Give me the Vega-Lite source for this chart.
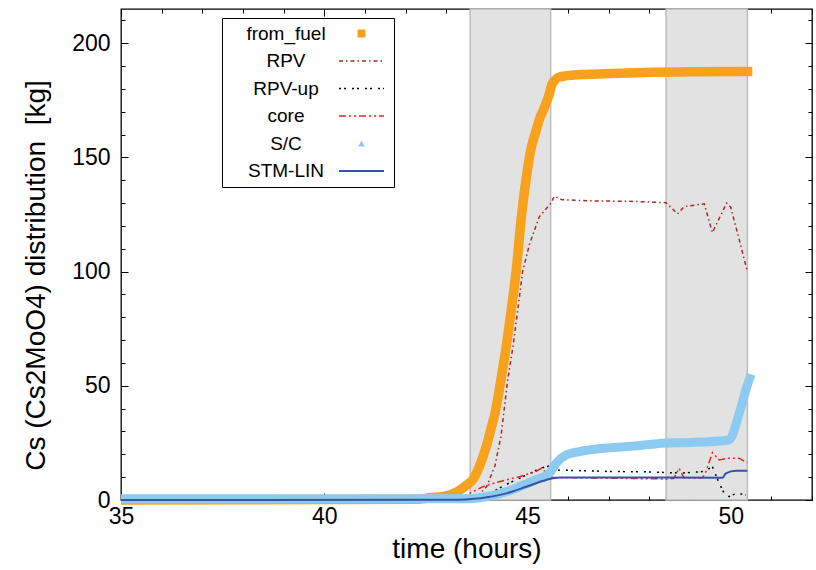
{
  "$schema": "https://vega.github.io/schema/vega-lite/v6.json",
  "width": 691,
  "height": 491,
  "autosize": {"type": "none"},
  "padding": {"left": 121, "top": 9, "right": 4, "bottom": 70},
  "background": "#ffffff",
  "config": {
    "font": "Liberation Sans",
    "view": {"stroke": "#000000", "strokeWidth": 1.3},
    "axis": {"domain": false, "grid": false, "labelFont": "Liberation Sans", "labelFontSize": 23, "labelColor": "#000000", "titleFont": "Liberation Sans", "titleFontSize": 28, "titleFontWeight": "normal", "titleColor": "#000000", "tickColor": "#000000", "tickWidth": 1}
  },
  "datasets": {
    "zones": [
      {"t": 43.59, "t2": 45.57},
      {"t": 48.41, "t2": 50.41}
    ],
    "curves": [
      {"s": "from_fuel", "t": 35, "v": 0},
      {"s": "from_fuel", "t": 42.3, "v": 0.3},
      {"s": "from_fuel", "t": 42.6, "v": 1.0},
      {"s": "from_fuel", "t": 43.0, "v": 1.8},
      {"s": "from_fuel", "t": 43.2, "v": 3.0},
      {"s": "from_fuel", "t": 43.35, "v": 4.5},
      {"s": "from_fuel", "t": 43.5, "v": 6.5},
      {"s": "from_fuel", "t": 43.66, "v": 9},
      {"s": "from_fuel", "t": 43.8, "v": 14},
      {"s": "from_fuel", "t": 43.98, "v": 23},
      {"s": "from_fuel", "t": 44.1, "v": 31},
      {"s": "from_fuel", "t": 44.2, "v": 38},
      {"s": "from_fuel", "t": 44.35, "v": 53},
      {"s": "from_fuel", "t": 44.5, "v": 70},
      {"s": "from_fuel", "t": 44.6, "v": 83},
      {"s": "from_fuel", "t": 44.72, "v": 100},
      {"s": "from_fuel", "t": 44.85, "v": 124},
      {"s": "from_fuel", "t": 44.97, "v": 141},
      {"s": "from_fuel", "t": 45.09, "v": 154},
      {"s": "from_fuel", "t": 45.2, "v": 161},
      {"s": "from_fuel", "t": 45.29, "v": 166.5},
      {"s": "from_fuel", "t": 45.42, "v": 172},
      {"s": "from_fuel", "t": 45.54, "v": 178},
      {"s": "from_fuel", "t": 45.6, "v": 182},
      {"s": "from_fuel", "t": 45.66, "v": 183.5},
      {"s": "from_fuel", "t": 45.75, "v": 185},
      {"s": "from_fuel", "t": 45.9, "v": 185.6},
      {"s": "from_fuel", "t": 46.5, "v": 186.4},
      {"s": "from_fuel", "t": 47.3, "v": 186.9},
      {"s": "from_fuel", "t": 48.07, "v": 187.3},
      {"s": "from_fuel", "t": 49.0, "v": 187.5},
      {"s": "from_fuel", "t": 50.53, "v": 187.6},

      {"s": "RPV", "t": 35, "v": 0},
      {"s": "RPV", "t": 43.5, "v": 0.2},
      {"s": "RPV", "t": 43.8, "v": 2},
      {"s": "RPV", "t": 44.0, "v": 6},
      {"s": "RPV", "t": 44.2, "v": 15},
      {"s": "RPV", "t": 44.35, "v": 28},
      {"s": "RPV", "t": 44.51, "v": 52},
      {"s": "RPV", "t": 44.65, "v": 68},
      {"s": "RPV", "t": 44.76, "v": 83},
      {"s": "RPV", "t": 44.88, "v": 100},
      {"s": "RPV", "t": 45.05, "v": 112},
      {"s": "RPV", "t": 45.29, "v": 124},
      {"s": "RPV", "t": 45.58, "v": 130},
      {"s": "RPV", "t": 45.66, "v": 133},
      {"s": "RPV", "t": 45.85, "v": 131.5},
      {"s": "RPV", "t": 46.5, "v": 131},
      {"s": "RPV", "t": 47.5, "v": 130.8},
      {"s": "RPV", "t": 48.41, "v": 130.2},
      {"s": "RPV", "t": 48.69, "v": 125.3},
      {"s": "RPV", "t": 48.86, "v": 128.5},
      {"s": "RPV", "t": 49.35, "v": 129.7},
      {"s": "RPV", "t": 49.55, "v": 117.1},
      {"s": "RPV", "t": 49.9, "v": 130},
      {"s": "RPV", "t": 50.0, "v": 128.2},
      {"s": "RPV", "t": 50.21, "v": 114},
      {"s": "RPV", "t": 50.41, "v": 100},

      {"s": "RPV-up", "t": 35, "v": 0},
      {"s": "RPV-up", "t": 43.8, "v": 0.2},
      {"s": "RPV-up", "t": 44.0, "v": 1.5},
      {"s": "RPV-up", "t": 44.23, "v": 4.4},
      {"s": "RPV-up", "t": 44.5, "v": 7},
      {"s": "RPV-up", "t": 44.8, "v": 9.5},
      {"s": "RPV-up", "t": 45.1, "v": 12},
      {"s": "RPV-up", "t": 45.3, "v": 13.8},
      {"s": "RPV-up", "t": 45.46, "v": 14.6},
      {"s": "RPV-up", "t": 45.55, "v": 15},
      {"s": "RPV-up", "t": 45.65, "v": 13},
      {"s": "RPV-up", "t": 46.0, "v": 13},
      {"s": "RPV-up", "t": 47.0, "v": 12.5},
      {"s": "RPV-up", "t": 48.0, "v": 12.3},
      {"s": "RPV-up", "t": 48.8, "v": 11.8},
      {"s": "RPV-up", "t": 49.35, "v": 12.5},
      {"s": "RPV-up", "t": 49.55, "v": 14.6},
      {"s": "RPV-up", "t": 49.7, "v": 8},
      {"s": "RPV-up", "t": 49.84, "v": 2.9},
      {"s": "RPV-up", "t": 49.96, "v": 1.5},
      {"s": "RPV-up", "t": 50.15, "v": 3},
      {"s": "RPV-up", "t": 50.37, "v": 2.2},

      {"s": "core", "t": 35, "v": 0},
      {"s": "core", "t": 43.3, "v": 0.3},
      {"s": "core", "t": 43.49, "v": 2.2},
      {"s": "core", "t": 43.9, "v": 5.8},
      {"s": "core", "t": 44.2, "v": 7.5},
      {"s": "core", "t": 44.48, "v": 8.8},
      {"s": "core", "t": 44.8, "v": 10.2},
      {"s": "core", "t": 45.2, "v": 12.4},
      {"s": "core", "t": 45.35, "v": 14},
      {"s": "core", "t": 45.55, "v": 10},
      {"s": "core", "t": 45.7, "v": 9.8},
      {"s": "core", "t": 46.5, "v": 9.7},
      {"s": "core", "t": 48.0, "v": 9.3},
      {"s": "core", "t": 48.45, "v": 9.2},
      {"s": "core", "t": 48.6, "v": 9.5},
      {"s": "core", "t": 48.73, "v": 13.9},
      {"s": "core", "t": 48.85, "v": 9.6},
      {"s": "core", "t": 49.3, "v": 9.6},
      {"s": "core", "t": 49.39, "v": 12.4},
      {"s": "core", "t": 49.55, "v": 20.7},
      {"s": "core", "t": 49.72, "v": 17.5},
      {"s": "core", "t": 49.92, "v": 18.3},
      {"s": "core", "t": 50.2, "v": 18.3},
      {"s": "core", "t": 50.41, "v": 16.3},

      {"s": "S/C", "t": 35, "v": 0.5},
      {"s": "S/C", "t": 43.5, "v": 0.5},
      {"s": "S/C", "t": 44.0, "v": 1.5},
      {"s": "S/C", "t": 44.48, "v": 3.6},
      {"s": "S/C", "t": 44.8, "v": 5.8},
      {"s": "S/C", "t": 45.2, "v": 8.8},
      {"s": "S/C", "t": 45.54, "v": 11.7},
      {"s": "S/C", "t": 45.7, "v": 16},
      {"s": "S/C", "t": 45.95, "v": 19.7},
      {"s": "S/C", "t": 46.28, "v": 21.2},
      {"s": "S/C", "t": 46.9, "v": 22.7},
      {"s": "S/C", "t": 47.5, "v": 23.4},
      {"s": "S/C", "t": 48.0, "v": 24.3},
      {"s": "S/C", "t": 48.4, "v": 25},
      {"s": "S/C", "t": 49.0, "v": 25.2},
      {"s": "S/C", "t": 49.96, "v": 26.3},
      {"s": "S/C", "t": 50.21, "v": 38},
      {"s": "S/C", "t": 50.37, "v": 48},
      {"s": "S/C", "t": 50.5, "v": 55},

      {"s": "STM-LIN", "t": 35, "v": 0},
      {"s": "STM-LIN", "t": 43.3, "v": 0.1},
      {"s": "STM-LIN", "t": 43.7, "v": 0.5},
      {"s": "STM-LIN", "t": 44.0, "v": 1.2},
      {"s": "STM-LIN", "t": 44.48, "v": 2.9},
      {"s": "STM-LIN", "t": 44.97, "v": 5.8},
      {"s": "STM-LIN", "t": 45.46, "v": 8.8},
      {"s": "STM-LIN", "t": 45.79, "v": 9.8},
      {"s": "STM-LIN", "t": 46.24, "v": 9.9},
      {"s": "STM-LIN", "t": 47.5, "v": 9.9},
      {"s": "STM-LIN", "t": 49.8, "v": 9.7},
      {"s": "STM-LIN", "t": 49.88, "v": 11.7},
      {"s": "STM-LIN", "t": 50.13, "v": 12.8},
      {"s": "STM-LIN", "t": 50.41, "v": 12.8}
    ]
  },
  "resolve": {"axis": {"x": "independent", "y": "independent"}},
  "layer": [
    {
      "data": {"name": "zones"},
      "mark": {"type": "rect", "fill": "#e2e2e2", "stroke": "#bcbcbc", "strokeWidth": 1.5},
      "encoding": {
        "x": {"field": "t", "type": "quantitative", "scale": {"domain": [35, 52], "nice": false, "zero": false}, "axis": null},
        "x2": {"field": "t2"}
      }
    },
    {
      "encoding": {
        "x": {
          "field": "t", "type": "quantitative",
          "scale": {"domain": [35, 52], "nice": false, "zero": false},
          "axis": {
            "orient": "bottom",
            "title": "time (hours)",
            "values": [35,36,37,38,39,40,41,42,43,44,45,46,47,48,49,50,51,52],
            "labelExpr": "datum.value % 5 === 0 ? datum.label : ''",
            "tickSize": {"condition": {"test": "datum.value % 5 === 0", "value": -7}, "value": -4},
            "labelPadding": 12, "labelFlush": false, "labelOverlap": false,
            "titlePadding": 4
          }
        },
        "y": {
          "field": "v", "type": "quantitative",
          "scale": {"domain": [0, 215], "nice": false, "zero": false},
          "axis": {
            "orient": "left",
            "title": "Cs (Cs2MoO4) distribution\u00a0 [kg]",
            "values": [0,10,20,30,40,50,60,70,80,90,100,110,120,130,140,150,160,170,180,190,200,210],
            "labelExpr": "datum.value % 50 === 0 ? datum.label : ''",
            "tickSize": {"condition": {"test": "datum.value % 50 === 0", "value": -7}, "value": -4},
            "labelPadding": 18, "labelFlush": false, "labelOverlap": false,
            "titlePadding": 21, "titleY": 266
          }
        }
      },
      "layer": [
        {
          "data": {"name": "curves"},
          "transform": [{"filter": "datum.s === 'from_fuel'"}],
          "mark": {"type": "line", "color": "#f8a11c", "strokeWidth": 9.5, "interpolate": "monotone"}
        },
        {
          "data": {"name": "curves"},
          "transform": [{"filter": "datum.s === 'RPV'"}],
          "mark": {"type": "line", "color": "#a52a2a", "strokeWidth": 1.5, "strokeDash": [4, 3, 1.5, 3]}
        },
        {
          "data": {"name": "curves"},
          "transform": [{"filter": "datum.s === 'RPV-up'"}],
          "mark": {"type": "line", "color": "#000000", "strokeWidth": 1.5, "strokeDash": [2, 3, 2, 6]}
        },
        {
          "data": {"name": "curves"},
          "transform": [{"filter": "datum.s === 'core'"}],
          "mark": {"type": "line", "color": "#ee2222", "strokeWidth": 1.5, "strokeDash": [7, 3, 2, 3, 2, 3]}
        },
        {
          "data": {"name": "curves"},
          "transform": [{"filter": "datum.s === 'S/C'"}],
          "mark": {"type": "line", "color": "#8ccbef", "strokeWidth": 9, "interpolate": "monotone"}
        },
        {
          "data": {"name": "curves"},
          "transform": [{"filter": "datum.s === 'STM-LIN'"}],
          "mark": {"type": "line", "color": "#3355a5", "strokeWidth": 2, "interpolate": "monotone"}
        },
        {
          "data": {"name": "curves"},
          "mark": {"type": "line", "opacity": 0},
          "encoding": {
            "color": {
              "field": "s", "type": "nominal",
              "scale": {"domain": ["from_fuel", "RPV", "RPV-up", "core", "S/C", "STM-LIN"], "range": ["#f8a11c", "#a52a2a", "#000000", "#ee2222", "#8ccbef", "#3355a5"]},
              "legend": {
                "title": null, "orient": "none", "legendX": 101, "legendY": 9,
                "strokeColor": "#000000", "fillColor": "#ffffff", "padding": 6,
                "labelFont": "Liberation Sans", "labelFontSize": 19, "labelColor": "#000000", "labelAlign": "center",
                "labelOffset": -85, "symbolOffset": 124, "symbolSize": 100, "rowPadding": 7.5,
                "encode": {
                  "symbols": {
                    "update": {
                      "opacity": {"value": 1},
                      "shape": {"signal": "datum.value === 'from_fuel' ? 'square' : datum.value === 'S/C' ? 'triangle-up' : 'stroke'"},
                      "size": {"signal": "datum.value === 'from_fuel' ? 64 : datum.value === 'S/C' ? 45 : 2025"},
                      "fill": {"signal": "datum.value === 'from_fuel' ? '#f8a11c' : datum.value === 'S/C' ? '#8ccbef' : 'transparent'"},
                      "strokeWidth": {"signal": "datum.value === 'from_fuel' || datum.value === 'S/C' ? 0 : datum.value === 'STM-LIN' ? 2 : 1.5"},
                      "strokeDash": {"signal": "datum.value === 'RPV' ? [4, 3, 1.5, 3] : datum.value === 'RPV-up' ? [2, 3, 2, 6] : datum.value === 'core' ? [7, 3, 2, 3, 2, 3] : []"}
                    }
                  }
                }
              }
            }
          }
        }
      ]
    },
    {
      "data": {"name": "curves"},
      "mark": {"type": "line", "opacity": 0},
      "encoding": {
        "x": {
          "field": "t", "type": "quantitative",
          "axis": {
            "orient": "top", "title": null, "labels": false,
            "values": [35,36,37,38,39,40,41,42,43,44,45,46,47,48,49,50,51,52],
            "tickSize": {"condition": {"test": "datum.value % 5 === 0", "value": -7}, "value": -4}
          }
        },
        "y": {
          "field": "v", "type": "quantitative",
          "axis": {
            "orient": "right", "title": null, "labels": false,
            "values": [0,10,20,30,40,50,60,70,80,90,100,110,120,130,140,150,160,170,180,190,200,210],
            "tickSize": {"condition": {"test": "datum.value % 50 === 0", "value": -7}, "value": -4}
          }
        }
      }
    }
  ]
}
